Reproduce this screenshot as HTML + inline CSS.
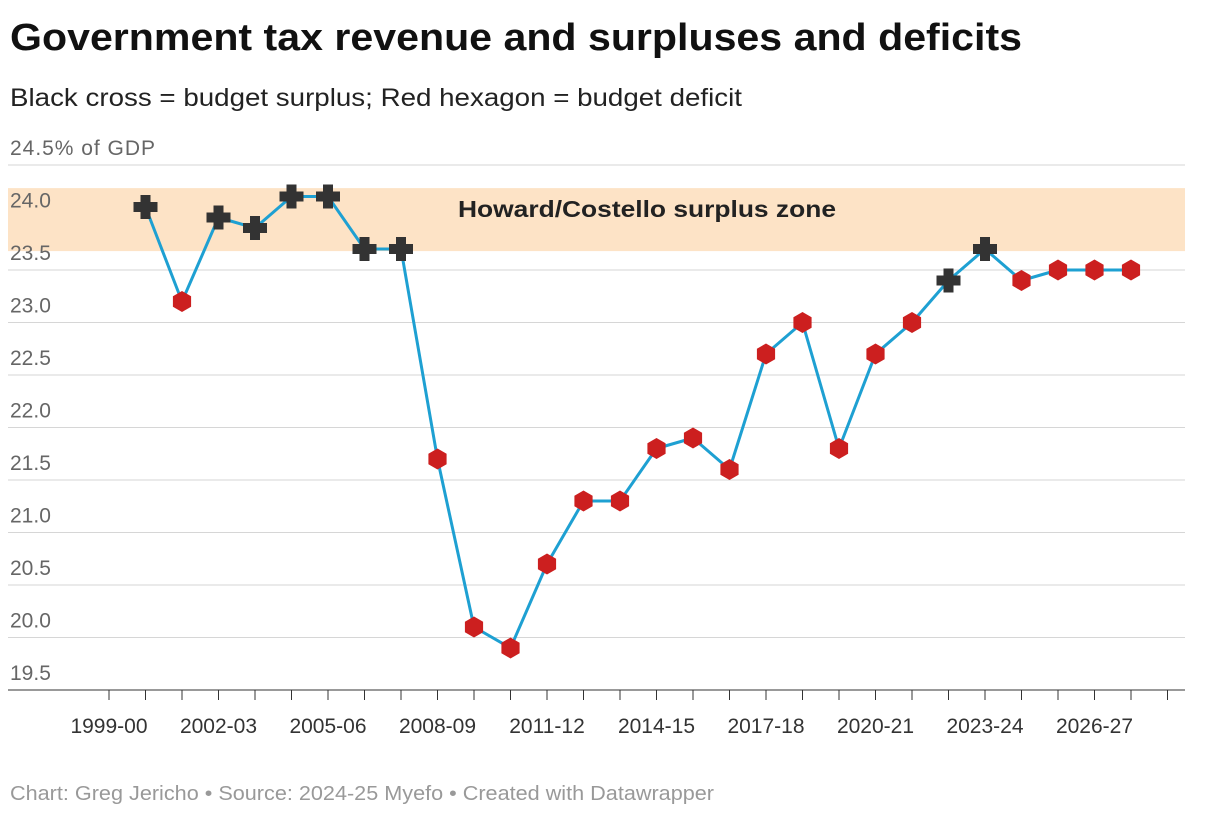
<!DOCTYPE html>
<html><head><meta charset="utf-8"><style>
body{margin:0;background:#fff;font-family:"Liberation Sans",sans-serif;}
svg text{font-family:"Liberation Sans",sans-serif;}
</style></head><body>
<svg id="c" width="1220" height="816">
<text x="10" y="50" font-size="38" font-weight="bold" fill="#111" textLength="1012" lengthAdjust="spacingAndGlyphs">Government tax revenue and surpluses and deficits</text>
<text x="10" y="106" font-size="25" fill="#222" textLength="732" lengthAdjust="spacingAndGlyphs">Black cross = budget surplus; Red hexagon = budget deficit</text>
<text x="10" y="800" font-size="20" fill="#999" textLength="704" lengthAdjust="spacingAndGlyphs">Chart: Greg Jericho • Source: 2024-25 Myefo • Created with Datawrapper</text>
<g id="g"></g>
</svg>
<script>
const years=["2000-01","2001-02","2002-03","2003-04","2004-05","2005-06","2006-07","2007-08","2008-09","2009-10","2010-11","2011-12","2012-13","2013-14","2014-15","2015-16","2016-17","2017-18","2018-19","2019-20","2020-21","2021-22","2022-23","2023-24","2024-25","2025-26","2026-27","2027-28"];
const revenue=[24.1,23.2,24.0,23.9,24.2,24.2,23.7,23.7,21.7,20.1,19.9,20.7,21.3,21.3,21.8,21.9,21.6,22.7,23.0,21.8,22.7,23.0,23.4,23.7,23.4,23.5,23.5,23.5];
const surplus=[1,0,1,1,1,1,1,1,0,0,0,0,0,0,0,0,0,0,0,0,0,0,1,1,0,0,0,0];
const yTicks=[24.5,24.0,23.5,23.0,22.5,22.0,21.5,21.0,20.5,20.0,19.5];
const xLabels=["1999-00","2002-03","2005-06","2008-09","2011-12","2014-15","2017-18","2020-21","2023-24","2026-27"];
const band=[23.68,24.28];
const y=v=>165+(24.5-v)*105;
const xi=i=>109+i*36.5;
const g=document.getElementById('g');
const NS="http://www.w3.org/2000/svg";
function mk(t,a){const e=document.createElementNS(NS,t);for(const k in a)e.setAttribute(k,a[k]);g.appendChild(e);return e;}
yTicks.forEach((v,i)=>{
 if(i<yTicks.length-1){let l=mk('line',{x1:8,x2:1185,y1:y(v),y2:y(v),stroke:'#d6d6d6','stroke-width':1});
 
 }
});
let b=mk('rect',{x:8,y:y(band[1]),width:1177,height:y(band[0])-y(band[1]),fill:'#fde3c6'});


let bt=mk('text',{x:458,y:217,'font-size':23,'font-weight':'bold',fill:'#222',textLength:378,lengthAdjust:'spacingAndGlyphs'});bt.textContent="Howard/Costello surplus zone";


yTicks.forEach((v,i)=>{
 let t=mk('text',{x:10,y:y(v)-10,'font-size':21,fill:'#666'});
 t.textContent=i==0?"24.5% of GDP":v.toFixed(1);
 if(i==0)t.setAttribute('textLength','145');
 
 
});
let ax=mk('line',{x1:8,x2:1185,y1:y(19.5),y2:y(19.5),stroke:'#333','stroke-width':1});


for(let i=0;i<30;i++){let tk=mk('line',{x1:xi(i),x2:xi(i),y1:y(19.5),y2:y(19.5)+10,stroke:'#333'});
 
 }
xLabels.forEach((s,i)=>{let t=mk('text',{x:xi(i*3),y:733,'font-size':21,fill:'#333','text-anchor':'middle'});t.textContent=s;
 
 });
let p=mk('polyline',{points:revenue.map((v,i)=>xi(i+1)+','+y(v)).join(' '),fill:'none',stroke:'#1ea0d2','stroke-width':3,'stroke-linejoin':'round'});


revenue.forEach((v,i)=>{
 const cx=xi(i+1),cy=y(v);let m;
 if(surplus[i]){
  m=mk('path',{d:`M${cx-5},${cy-12}h10v7h7v10h-7v7h-10v-7h-7v-10h7z`,fill:'#333'});
  
 }else{
  let pts=[];for(let k=0;k<6;k++){const a=Math.PI/3*k+Math.PI/6;pts.push((cx+10.5*Math.cos(a))+','+(cy+10.5*Math.sin(a)));}
  m=mk('polygon',{points:pts.join(' '),fill:'#cc1f1f'});
  
 }
 
});
</script>
</body></html>
